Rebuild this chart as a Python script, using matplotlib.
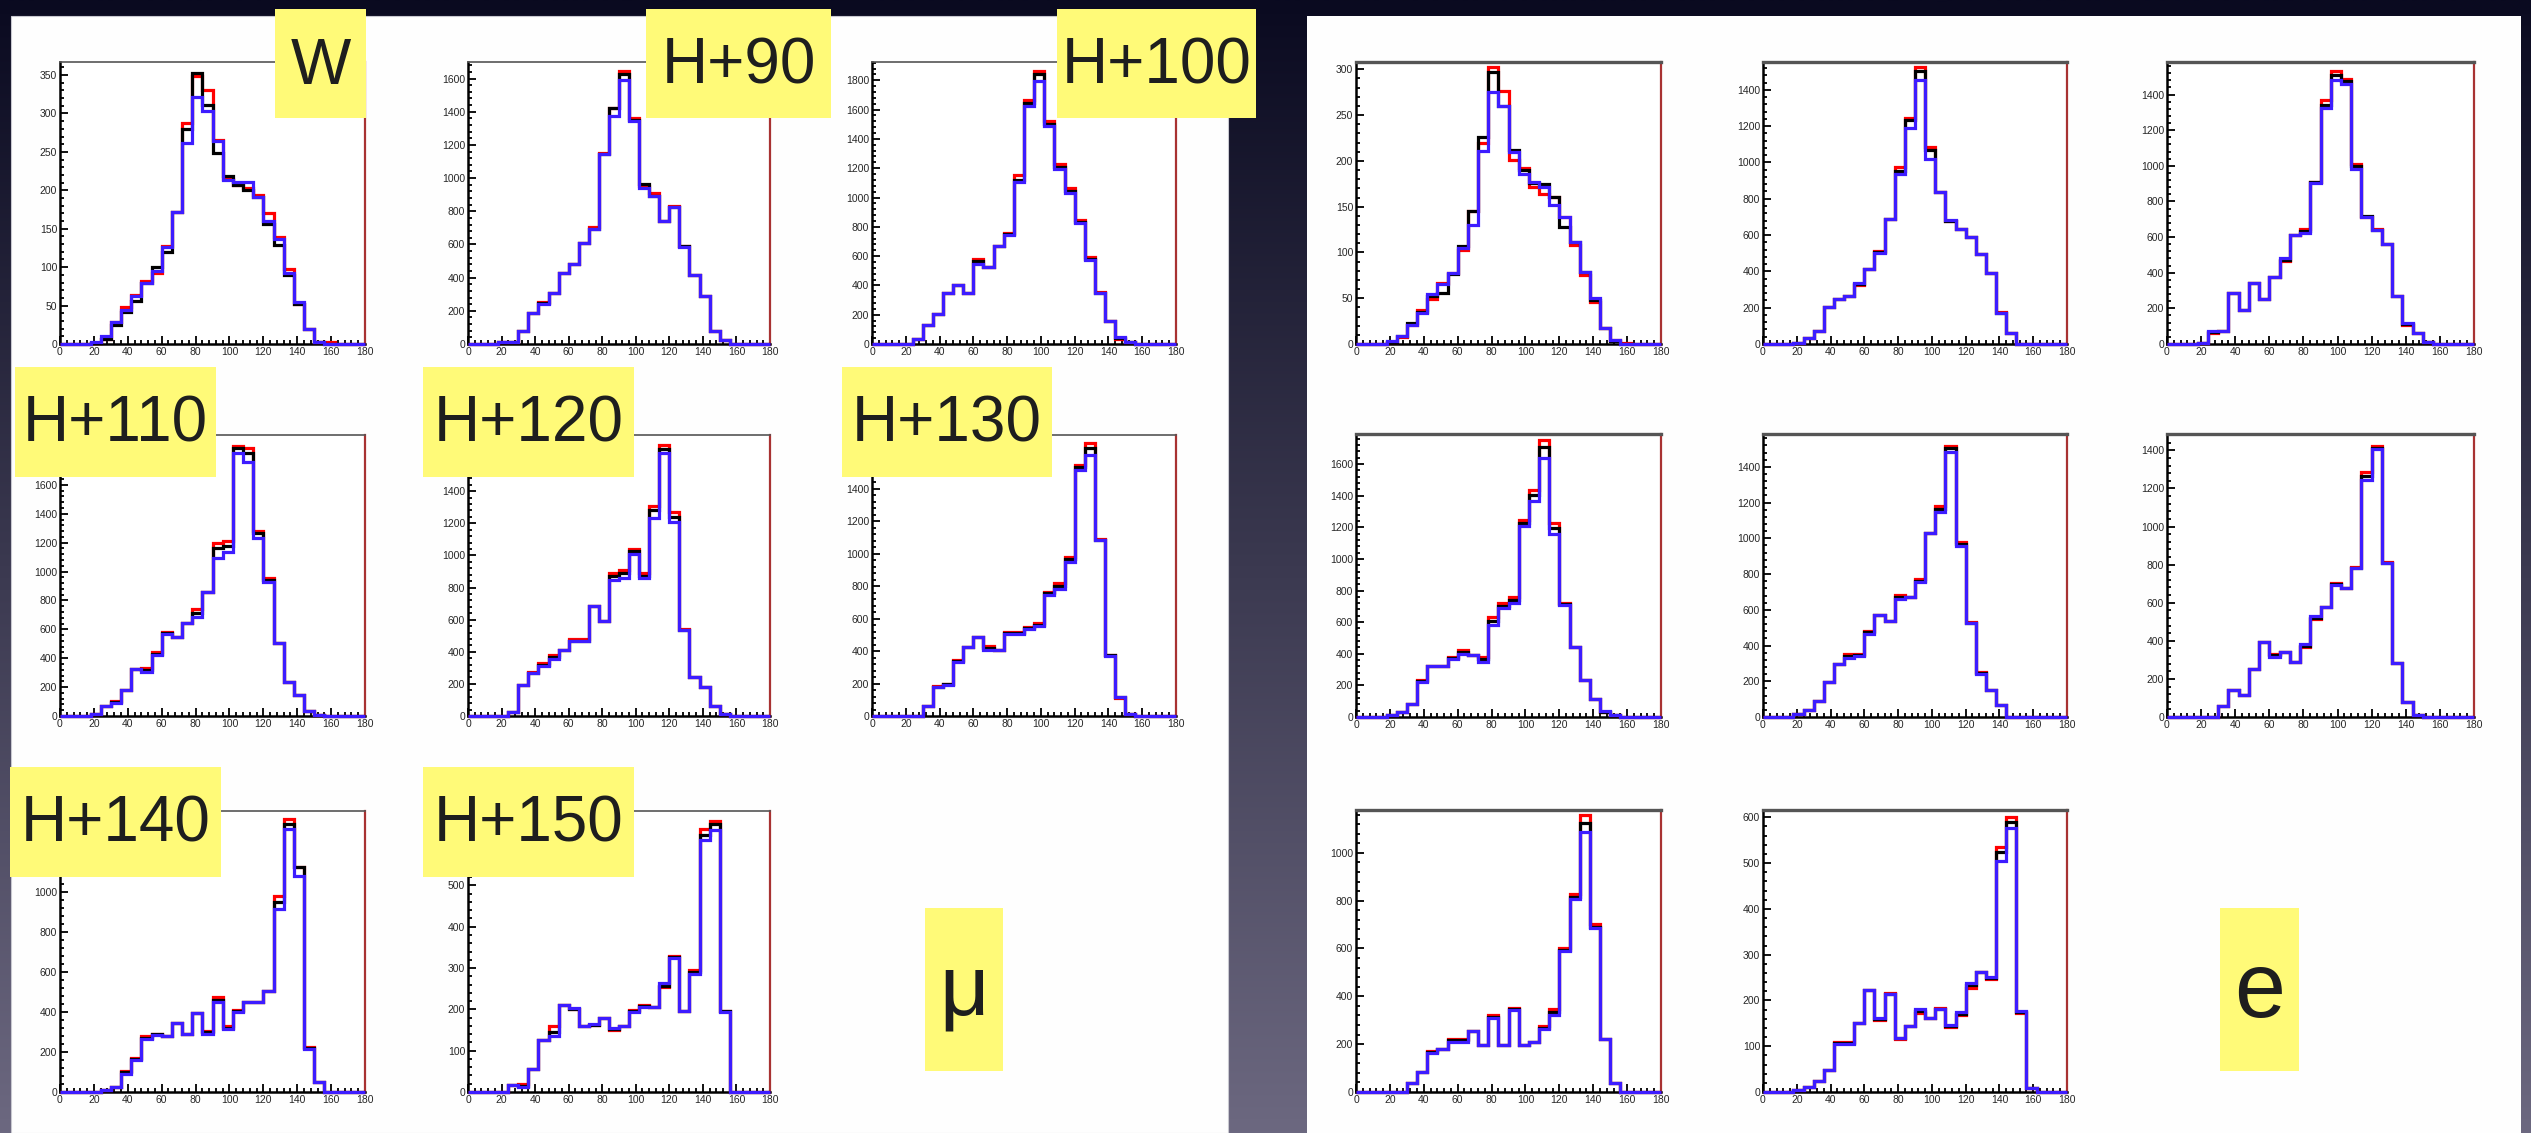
import numpy as np
import matplotlib
matplotlib.use("Agg")
import matplotlib.pyplot as plt
from matplotlib.patches import Rectangle
from matplotlib.ticker import MultipleLocator, FuncFormatter

plt.rcParams['font.family'] = ['Liberation Sans', 'DejaVu Sans']

FIG_W, FIG_H = 2531, 1133
DPI = 100

# 30 bins of width 6 between 0 and 180
bin_edges = np.arange(0, 181, 6)

# ---------------- muon channel ----------------
mu_W_red   = [0,0,0,1,6,28,48,64,82,93,127,172,287,349,330,266,215,207,203,194,170,139,97,52,20,2,2,0,0,0]
mu_W_black = [0,0,0,1,6,25,41,56,80,100,120,172,280,353,311,249,218,207,201,191,156,129,90,52,20,2,0,0,0,0]
mu_W_blue  = [0,0,0,2,10,28,44,62,80,95,126,172,262,322,303,264,213,211,211,191,160,137,92,55,20,3,0,0,0,0]

mu_H90_red   = [0,0,0,14,14,80,189,255,305,430,480,606,703,1153,1424,1647,1360,950,912,741,831,590,416,289,78,24,0,0,0,0]
mu_H90_black = [0,0,0,14,14,80,189,245,305,430,480,606,695,1145,1424,1627,1350,964,895,741,825,588,416,289,78,24,0,0,0,0]
mu_H90_blue  = [0,0,0,14,14,80,189,241,305,430,480,606,691,1143,1374,1590,1343,942,892,741,823,586,416,289,78,24,0,0,0,0]

mu_H100_red   = [0,0,0,3,32,129,204,345,400,345,579,527,670,760,1155,1666,1866,1519,1230,1065,849,595,354,159,32,16,0,0,0,0]
mu_H100_black = [0,0,0,3,32,129,204,345,400,345,565,527,670,752,1121,1643,1843,1503,1210,1045,835,580,348,159,40,16,0,0,0,0]
mu_H100_blue  = [0,0,0,3,32,129,204,345,400,345,549,527,670,747,1105,1628,1798,1485,1196,1033,829,572,345,159,50,16,0,0,0,0]

mu_H110_red   = [0,0,0,12,69,106,180,323,330,440,584,549,646,738,860,1195,1211,1869,1852,1283,953,508,238,145,37,5,0,0,0,0]
mu_H110_black = [0,0,0,12,69,95,180,323,315,430,575,549,641,715,860,1160,1177,1852,1818,1264,940,503,238,145,37,5,0,0,0,0]
mu_H110_blue  = [0,0,0,12,69,88,180,323,307,422,565,549,641,687,860,1096,1137,1818,1760,1230,930,503,238,145,37,5,0,0,0,0]

mu_H120_red   = [0,0,0,0,27,193,276,329,380,412,478,478,686,589,890,907,1040,890,1310,1685,1269,540,245,179,64,10,0,0,0,0]
mu_H120_black = [0,0,0,0,27,193,270,318,365,412,470,470,686,589,870,890,1025,870,1280,1660,1240,537,245,179,64,10,0,0,0,0]
mu_H120_blue  = [0,0,0,0,27,193,266,312,354,412,464,464,686,589,849,859,1011,859,1233,1639,1206,537,245,179,64,10,0,0,0,0]

mu_H130_red   = [0,0,0,0,0,61,185,200,344,422,488,430,406,518,518,549,570,764,816,979,1547,1680,1090,375,110,10,0,0,0,0]
mu_H130_black = [0,0,0,0,0,61,180,195,338,422,488,420,406,510,510,540,560,755,800,965,1530,1651,1085,375,115,10,0,0,0,0]
mu_H130_blue  = [0,0,0,0,0,61,176,190,334,422,488,406,406,504,504,533,553,744,779,949,1516,1604,1082,369,119,10,0,0,0,0]

mu_H140_red   = [0,0,0,0,8,25,103,172,278,292,280,345,292,395,305,475,330,412,450,450,505,980,1367,1125,225,50,0,0,0,0]
mu_H140_black = [0,0,0,0,8,25,98,165,272,288,280,345,292,395,298,460,322,405,450,450,505,950,1340,1125,220,50,0,0,0,0]
mu_H140_blue  = [0,0,0,0,8,25,92,158,267,283,280,345,292,395,292,450,317,400,450,450,505,917,1317,1078,217,50,0,0,0,0]

mu_H150_red   = [0,0,0,0,18,19,56,127,159,211,200,160,161,180,149,160,199,211,205,254,328,197,296,637,657,197,0,0,0,0]
mu_H150_black = [0,0,0,0,18,15,56,127,145,211,202,160,163,180,152,160,196,208,205,256,326,197,290,623,649,195,0,0,0,0]
mu_H150_blue  = [0,0,0,0,18,12,56,127,135,211,204,160,165,180,156,160,193,205,205,264,325,197,286,610,634,193,0,0,0,0]

# ---------------- electron channel ----------------
e_W_red   = [0,0,0,2,8,21,37,49,67,78,103,145,220,303,276,201,192,172,164,161,139,108,75,46,17,4,1,0,0,0]
e_W_black = [0,0,0,2,9,23,35,52,56,76,107,145,226,297,260,212,190,176,175,161,128,111,79,48,17,3,0,0,0,0]
e_W_blue  = [0,0,0,3,9,21,34,55,66,78,105,130,211,275,260,210,186,177,171,152,139,111,79,50,17,4,0,0,0,0]

e_H90_red   = [0,0,0,7,31,73,205,247,264,324,411,510,686,975,1246,1525,1085,838,675,636,587,495,392,178,59,0,0,0,0,0]
e_H90_black = [0,0,0,7,31,73,205,247,264,330,411,505,686,955,1232,1503,1070,838,680,636,587,495,392,172,59,0,0,0,0,0]
e_H90_blue  = [0,0,0,7,31,73,205,247,264,337,411,499,686,935,1191,1455,1021,838,682,636,587,495,392,169,59,0,0,0,0,0]

e_H100_red   = [0,0,0,5,64,73,284,191,344,250,374,467,611,645,910,1372,1533,1490,1013,714,643,564,269,107,64,13,0,0,0,0]
e_H100_black = [0,0,0,5,68,73,284,191,344,250,374,472,611,635,907,1340,1508,1475,998,720,640,564,269,110,64,13,0,0,0,0]
e_H100_blue  = [0,0,0,5,73,73,284,191,344,250,374,480,611,624,905,1327,1480,1462,985,714,639,564,269,116,64,13,0,0,0,0]

e_H110_red   = [0,0,0,11,32,85,233,321,321,381,423,395,381,630,719,757,1247,1438,1755,1230,723,440,233,116,30,11,0,0,0,0]
e_H110_black = [0,0,0,11,32,85,228,321,321,375,412,395,370,609,703,740,1225,1406,1708,1194,715,440,233,116,34,11,0,0,0,0]
e_H110_blue  = [0,0,0,11,32,85,222,321,321,370,400,395,349,581,687,719,1205,1364,1638,1158,708,440,233,116,38,11,0,0,0,0]

e_H120_red   = [0,0,0,15,37,90,196,299,355,352,482,570,538,682,673,770,1032,1182,1518,982,533,252,150,65,0,0,0,0,0,0]
e_H120_black = [0,0,0,15,37,90,196,299,340,345,475,570,538,670,673,762,1030,1165,1505,970,528,245,150,65,0,0,0,0,0,0]
e_H120_blue  = [0,0,0,15,37,90,196,299,333,340,467,570,538,658,673,757,1028,1150,1481,957,524,239,150,65,0,0,0,0,0,0]

e_H130_red   = [0,0,0,0,0,56,144,114,254,395,333,342,289,368,512,575,702,675,789,1284,1424,815,281,79,9,0,0,0,0,0]
e_H130_black = [0,0,0,0,0,56,144,114,254,395,325,342,289,372,520,575,698,675,785,1265,1415,810,281,79,9,0,0,0,0,0]
e_H130_blue  = [0,0,0,0,0,56,144,114,254,395,316,342,289,382,530,575,693,675,781,1245,1407,807,281,79,9,0,0,0,0,0]

e_H140_red   = [0,0,0,0,0,38,82,170,179,221,221,257,197,320,197,350,197,211,274,346,600,828,1157,702,223,38,0,0,0,0]
e_H140_black = [0,0,0,0,0,38,82,166,179,216,216,257,197,312,197,345,197,211,268,335,595,815,1125,690,223,38,0,0,0,0]
e_H140_blue  = [0,0,0,0,0,38,82,163,179,211,211,257,197,309,197,341,197,211,263,323,591,805,1088,684,223,38,0,0,0,0]

e_H150_red   = [0,0,0,5,12,25,47,110,110,150,222,158,217,116,145,172,161,183,143,169,227,262,246,536,600,172,9,0,0,0]
e_H150_black = [0,0,0,5,12,25,47,107,107,150,222,160,215,117,145,177,161,182,145,171,233,262,249,525,590,174,9,0,0,0]
e_H150_blue  = [0,0,0,5,12,25,47,105,105,150,222,161,214,118,145,181,161,181,147,174,239,262,251,505,576,176,9,0,0,0]

# axis frame (pixels: left, top, right, bottom)
LEFT_COLS = [(60, 365), (468, 770), (872, 1176)]
LEFT_ROWS = [(62, 344), (435, 716), (811, 1092)]
RIGHT_COLS = [(1356, 1661), (1763, 2067), (2167, 2474)]
RIGHT_ROWS = [(62, 344), (434, 717), (810, 1092)]

# red, black, blue, y max, y tick step, highest labelled y tick, column, row, panel side
histograms = [
    (mu_W_red, mu_W_black, mu_W_blue, 367, 50, 350, LEFT_COLS[0], LEFT_ROWS[0], 'L'),
    (mu_H90_red, mu_H90_black, mu_H90_blue, 1700, 200, 1600, LEFT_COLS[1], LEFT_ROWS[0], 'L'),
    (mu_H100_red, mu_H100_black, mu_H100_blue, 1925, 200, 1800, LEFT_COLS[2], LEFT_ROWS[0], 'L'),
    (mu_H110_red, mu_H110_black, mu_H110_blue, 1945, 200, 1600, LEFT_COLS[0], LEFT_ROWS[1], 'L'),
    (mu_H120_red, mu_H120_black, mu_H120_blue, 1750, 200, 1400, LEFT_COLS[1], LEFT_ROWS[1], 'L'),
    (mu_H130_red, mu_H130_black, mu_H130_blue, 1730, 200, 1400, LEFT_COLS[2], LEFT_ROWS[1], 'L'),
    (mu_H140_red, mu_H140_black, mu_H140_blue, 1405, 200, 1000, LEFT_COLS[0], LEFT_ROWS[2], 'L'),
    (mu_H150_red, mu_H150_black, mu_H150_blue, 680, 100, 500, LEFT_COLS[1], LEFT_ROWS[2], 'L'),
    (e_W_red, e_W_black, e_W_blue, 308, 50, 300, RIGHT_COLS[0], RIGHT_ROWS[0], 'R'),
    (e_H90_red, e_H90_black, e_H90_blue, 1553, 200, 1400, RIGHT_COLS[1], RIGHT_ROWS[0], 'R'),
    (e_H100_red, e_H100_black, e_H100_blue, 1583, 200, 1400, RIGHT_COLS[2], RIGHT_ROWS[0], 'R'),
    (e_H110_red, e_H110_black, e_H110_blue, 1790, 200, 1600, RIGHT_COLS[0], RIGHT_ROWS[1], 'R'),
    (e_H120_red, e_H120_black, e_H120_blue, 1584, 200, 1400, RIGHT_COLS[1], RIGHT_ROWS[1], 'R'),
    (e_H130_red, e_H130_black, e_H130_blue, 1486, 200, 1400, RIGHT_COLS[2], RIGHT_ROWS[1], 'R'),
    (e_H140_red, e_H140_black, e_H140_blue, 1179, 200, 1000, RIGHT_COLS[0], RIGHT_ROWS[2], 'R'),
    (e_H150_red, e_H150_black, e_H150_blue, 616, 100, 600, RIGHT_COLS[1], RIGHT_ROWS[2], 'R'),
]

# sticky-note labels: text, box (x0, y0, x1, y1) in pixels, font size
labels = [
    ("W", (275, 9, 366, 118), 46),
    ("H+90", (646, 9, 831, 118), 46),
    ("H+100", (1057, 9, 1256, 118), 46),
    ("H+110", (15, 367, 216, 477), 46),
    ("H+120", (423, 367, 634, 477), 46),
    ("H+130", (842, 367, 1052, 477), 46),
    ("H+140", (10, 767, 221, 877), 46),
    ("H+150", (423, 767, 634, 877), 46),
    ("\u03bc", (925, 908, 1003, 1071), 62),
    ("e", (2220, 908, 2299, 1071), 66),
]

RED, BLACK, BLUE = '#ff0000', '#000000', '#3d1cff'
NOTE_YELLOW = '#fffa78'


def frac_rect(x0, y0, x1, y1):
    return [x0 / FIG_W, 1 - y1 / FIG_H, (x1 - x0) / FIG_W, (y1 - y0) / FIG_H]


def capped_formatter(top):
    return FuncFormatter(lambda v, pos: f"{v:.0f}" if v <= top + 1e-6 else "")


fig = plt.figure(figsize=(FIG_W / DPI, FIG_H / DPI), dpi=DPI)

# slide background with vertical gradient and two white panels
bg = fig.add_axes([0, 0, 1, 1])
bg.set_xlim(0, FIG_W)
bg.set_ylim(FIG_H, 0)
bg.axis('off')
top_col = np.array([10, 10, 32]) / 255
bot_col = np.array([108, 104, 128]) / 255
t = np.linspace(0, 1, 256)[:, None, None]
grad = top_col * (1 - t) + bot_col * t
grad = np.repeat(grad, 2, axis=1)
bg.imshow(grad, extent=(0, FIG_W, FIG_H, 0), aspect='auto', interpolation='bilinear')
bg.add_patch(Rectangle((11, 16), 1228 - 11, FIG_H - 16, facecolor='#fefefe',
                       edgecolor='#c8c8d0', linewidth=0.8))
bg.add_patch(Rectangle((1307, 16), 2521 - 1307, FIG_H - 16, facecolor='#fefefe',
                       edgecolor='none'))

for red, black, blue, ymax, ystep, ylab_top, (x0, x1), (y0, y1), side in histograms:
    ax = fig.add_axes(frac_rect(x0, y0, x1, y1))
    ax.set_facecolor('white')
    ax.stairs(red, bin_edges, color=RED, linewidth=2.3, clip_on=False, zorder=3)
    ax.stairs(black, bin_edges, color=BLACK, linewidth=2.3, clip_on=False, zorder=4)
    ax.stairs(blue, bin_edges, color=BLUE, linewidth=2.3, clip_on=False, zorder=5)
    ax.set_xlim(0, 180)
    ax.set_ylim(0, ymax)
    ax.xaxis.set_major_locator(MultipleLocator(20))
    ax.xaxis.set_minor_locator(MultipleLocator(4))
    ax.yaxis.set_major_locator(MultipleLocator(ystep))
    ax.yaxis.set_minor_locator(MultipleLocator(ystep / 5))
    ax.yaxis.set_major_formatter(capped_formatter(ylab_top))
    ax.tick_params(which='both', direction='in', top=False, right=False,
                   colors='#111111', labelcolor='#262626', labelsize=7.5, width=1.4, pad=2)
    ax.tick_params(which='major', length=6)
    ax.tick_params(which='minor', length=3)
    for s in ('left', 'bottom'):
        ax.spines[s].set_color('#000000')
        ax.spines[s].set_linewidth(1.8)
    ax.spines['top'].set_color('#555555')
    ax.spines['top'].set_linewidth(2.4 if side == 'R' else 1.2)
    ax.spines['right'].set_color('#a83232')
    ax.spines['right'].set_linewidth(1.6)

# sticky notes on top of everything
ov = fig.add_axes([0, 0, 1, 1])
ov.set_zorder(20)
ov.patch.set_alpha(0)
ov.set_xlim(0, FIG_W)
ov.set_ylim(FIG_H, 0)
ov.axis('off')
for text, (x0, y0, x1, y1), size in labels:
    ov.add_patch(Rectangle((x0, y0), x1 - x0, y1 - y0, facecolor=NOTE_YELLOW, edgecolor='none'))
    ov.text((x0 + x1) / 2, (y0 + y1) / 2 + 3, text, ha='center', va='center',
            fontsize=size, color='#1e1e1e')

fig.savefig('out.png', dpi=DPI)
